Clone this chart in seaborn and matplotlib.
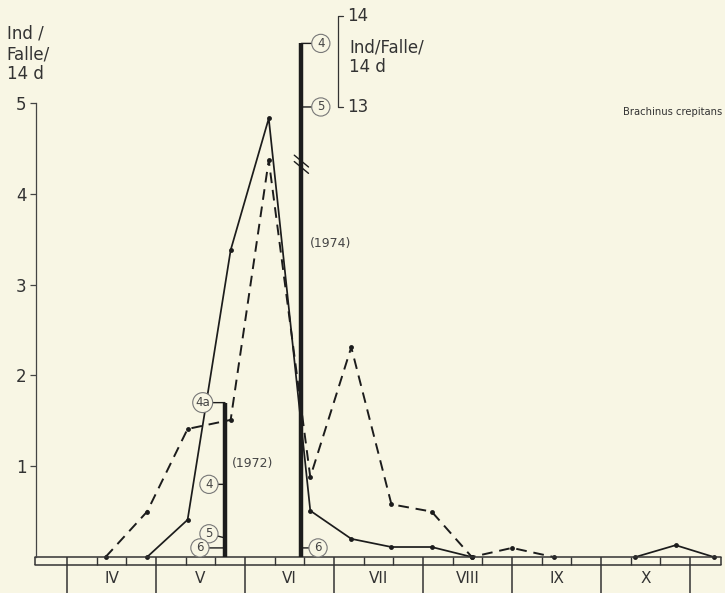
import numpy as np
import pandas as pd
import seaborn as sns
import matplotlib.pyplot as plt

# sampling dates (14 d intervals) and catches, Ind/Falle/14 d
dates_solid = ['04-28', '05-12', '05-27', '06-09', '06-23', '07-07', '07-21', '08-04', '08-18',
               '10-13', '10-27', '11-09']
vals_solid = [0.0, 0.41, 3.38, 4.83, 0.51, 0.20, 0.11, 0.11, 0.0,
              0.0, 0.13, 0.0]
seg_solid = [0, 0, 0, 0, 0, 0, 0, 0, 0, 1, 1, 1]

dates_dashed = ['04-14', '04-28', '05-12', '05-27', '06-09', '06-23', '07-07', '07-21', '08-04',
                '08-18', '09-01', '09-15']
vals_dashed = [0.0, 0.50, 1.41, 1.51, 4.37, 0.88, 2.31, 0.58, 0.50, 0.0, 0.10, 0.0]

# single-trap bars
date_1972 = '05-25'
traps_1972 = ['4a', '4', '5', '6']
vals_1972 = [1.70, 0.80, 0.21, 0.10]

date_1974 = '06-20'
traps_1974 = ['4', '5', '6']
vals_1974 = [13.7, 13.0, 0.10]

months = ['IV', 'V', 'VI', 'VII', 'VIII', 'IX', 'X']
month_start = [4, 5, 6, 7, 8, 9, 10]


def frac_month(s):
    d = pd.Timestamp('1973-' + s)
    return d.month + (d.day - 1) / d.days_in_month


bg = '#f8f6e4'
ink = '#1c1c1c'
sns.set_theme(style='white', rc={'figure.facecolor': bg, 'axes.facecolor': bg})
plt.rcParams['font.family'] = ['DejaVu Sans']

fig = plt.figure(figsize=(7.25, 5.93), dpi=100)
ax = fig.add_axes([0, 0, 1, 1])
ylo, yhi = -0.3965, 6.134
ax.set_xlim(3.247, 11.393)
ax.set_ylim(ylo, yhi)

df_s = pd.DataFrame({'x': [frac_month(d) for d in dates_solid], 'y': vals_solid, 'seg': seg_solid})
df_d = pd.DataFrame({'x': [frac_month(d) for d in dates_dashed], 'y': vals_dashed})

sns.lineplot(data=df_s, x='x', y='y', units='seg', estimator=None, color=ink, lw=1.25,
             marker='o', markersize=3.5, markeredgewidth=0, sort=False, ax=ax)
sns.lineplot(data=df_d, x='x', y='y', color=ink, lw=1.4, linestyle=(0, (5.5, 3.5)),
             marker='o', markersize=3.5, markeredgewidth=0, ax=ax)

# axes styling
for s in ['top', 'right', 'bottom']:
    ax.spines[s].set_visible(False)
ax.spines['left'].set_position(('axes', 0.0497))
ax.spines['left'].set_bounds(0, 5)
ax.spines['left'].set_color('#444')
ax.spines['left'].set_linewidth(0.9)
ax.set_yticks([1, 2, 3, 4, 5])
ax.set_yticklabels(['1', '2', '3', '4', '5'])
ax.tick_params(axis='y', direction='out', length=4, width=0.9, color='#444', pad=3,
               labelsize=12, labelcolor='#333', left=True)
ax.set_xticks([])
ax.set_xlabel('')
ax.set_ylabel('')

# time strip along the bottom
ax.axhline(0, xmin=0.048, xmax=0.994, color='#333', lw=1.1)
ax.axhline(-0.088, xmin=0.048, xmax=0.994, color='#333', lw=1.1)
ax.vlines([3.64, 11.35], -0.088, 0, color='#333', lw=1.1)
ax.vlines(month_start + [11], ylo, 0, color='#333', lw=1.1)
thirds = [m + k / 3 for m in month_start for k in (1, 2)]
ax.vlines(thirds, -0.088, 0, color='#333', lw=1.0)
for m, lab in zip(month_start, months):
    ax.text(m + 0.5, -0.235, lab, ha='center', va='center', fontsize=11, color='#333')

# 1972 bar
x72 = frac_month(date_1972)
ax.vlines(x72, 0, max(vals_1972), color=ink, lw=3.2)
circ = dict(boxstyle='circle,pad=0.22', fc=bg, ec='#777', lw=0.8)
offs72 = [(-16, 0), (-11.5, 0), (-11.5, 3), (-18, 0)]
for t, v, o in zip(traps_1972, vals_1972, offs72):
    ax.annotate(t, xy=(x72, v), xytext=o, textcoords='offset points', ha='center', va='center',
                fontsize=8.5, color='#444', bbox=circ,
                arrowprops=dict(arrowstyle='-', color=ink, lw=1.0, shrinkA=0, shrinkB=0))
ax.annotate('(1972)', xy=(x72, 1.03), xytext=(5, 0), textcoords='offset points',
            ha='left', va='center', fontsize=9, color='#444')

# 1974 bar with broken scale
x74 = frac_month(date_1974)
shift = 8.044
ax2 = ax.twinx()
ax2.set_ylim(ylo + shift, yhi + shift)
ax2.axis('off')
brk = 4.3
ax.vlines(x74, 0, brk, color=ink, lw=3.2)
ax2.vlines(x74, brk + shift, vals_1974[0], color=ink, lw=3.2)
for yb in (4.36, 4.29):
    ax.plot([x74 - 0.08, x74 + 0.08], [yb + 0.065, yb - 0.065], color=ink, lw=1.0)
for t, v in zip(traps_1974[:2], vals_1974[:2]):
    ax2.annotate(t, xy=(x74, v), xytext=(14, 0), textcoords='offset points', ha='center',
                 va='center', fontsize=8.5, color='#444', bbox=circ,
                 arrowprops=dict(arrowstyle='-', color=ink, lw=1.0, shrinkA=0, shrinkB=0))
ax.annotate(traps_1974[2], xy=(x74, vals_1974[2]), xytext=(12, 0), textcoords='offset points',
            ha='center', va='center', fontsize=8.5, color='#444', bbox=circ,
            arrowprops=dict(arrowstyle='-', color=ink, lw=1.0, shrinkA=0, shrinkB=0))
ax.annotate('(1974)', xy=(x74, 3.45), xytext=(6, 0), textcoords='offset points',
            ha='left', va='center', fontsize=9, color='#444')

# bracket scale 13-14 for the upper part
bx = x74 + 0.41
ax2.plot([bx + 0.06, bx, bx, bx + 0.06], [14, 14, 13, 13], color='#333', lw=0.9)
ax2.text(bx + 0.1, 14, '14', ha='left', va='center', fontsize=12, color='#333')
ax2.text(bx + 0.1, 13, '13', ha='left', va='center', fontsize=12, color='#333')
ax2.text(bx + 0.13, 13.55, 'Ind/Falle/\n14 d', ha='left', va='center', fontsize=12,
         color='#333', linespacing=1.1)

fig.text(0.009, 0.958, 'Ind /\nFalle/\n14 d', ha='left', va='top', fontsize=12,
         color='#333', linespacing=1.15)
fig.text(0.996, 0.811, 'Brachinus crepitans', ha='right', va='center', fontsize=7.2,
         color='#333')

fig.savefig('out.png', dpi=100, facecolor=bg)
